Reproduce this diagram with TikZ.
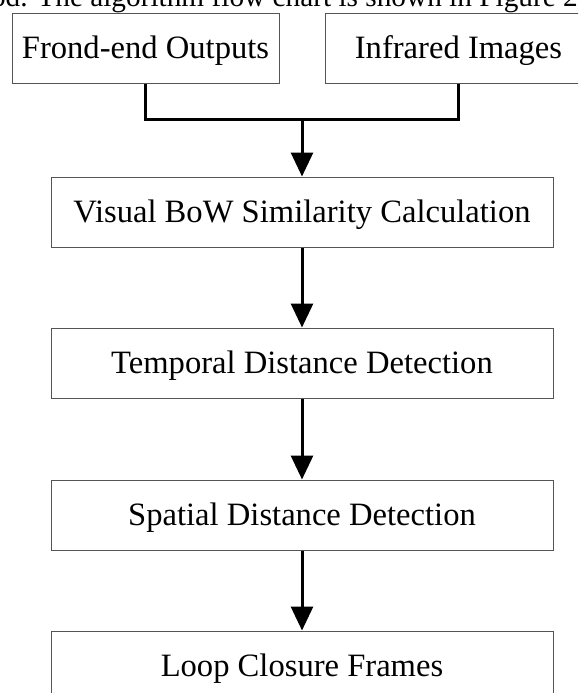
\documentclass[tikz,border=0pt]{standalone}
\usepackage{fontspec}
\setmainfont{Liberation Serif}
\usetikzlibrary{arrows.meta}
\definecolor{boxline}{RGB}{85,85,85}
\tikzset{
  box/.style={draw=boxline, line width=1pt, rectangle, inner sep=0pt,
    text height=21pt, text depth=0pt,
    font=\fontsize{32.6}{36}\selectfont},
  conn/.style={draw=black, line width=3pt, line join=miter},
  flowarrow/.style={conn, -{Triangle[width=22pt,length=24pt]}},
  caption/.style={inner sep=0pt, font=\fontsize{29.3}{32}\selectfont}
}
\begin{document}
\begin{tikzpicture}[x=1pt,y=-1pt]
\useasboundingbox (0,0) rectangle (578,693);
\clip (0,0) rectangle (578,693);
\fill[white] (0,0) rectangle (578,693);
\node[caption, anchor=base east] (cap) at (578,7) {od. The algorithm flow chart is shown in Figure 2};
\node[box, minimum width=267pt, minimum height=69pt] (fe) at (145.5,48.5) {Frond-end Outputs};
\node[box, minimum width=267pt, minimum height=69pt] (ir) at (458.5,48.5) {Infrared Images};
\node[box, minimum width=502pt, minimum height=70pt] (vis) at (302,212) {Visual BoW Similarity Calculation};
\node[box, minimum width=502pt, minimum height=70pt] (temp) at (302,363) {Temporal Distance Detection};
\node[box, minimum width=502pt, minimum height=70pt] (spat) at (302,515) {Spatial Distance Detection};
\node[box, minimum width=502pt, minimum height=70pt] (loop) at (302,666) {Loop Closure Frames};
\coordinate (mid) at (302,119);
\draw[conn] (fe.south) |- (mid) -| (ir.south);
\draw[flowarrow] (mid) -- (vis.north);
\draw[flowarrow] (vis.south) -- (temp.north);
\draw[flowarrow] (temp.south) -- (spat.north);
\draw[flowarrow] (spat.south) -- (loop.north);
\end{tikzpicture}
\end{document}
